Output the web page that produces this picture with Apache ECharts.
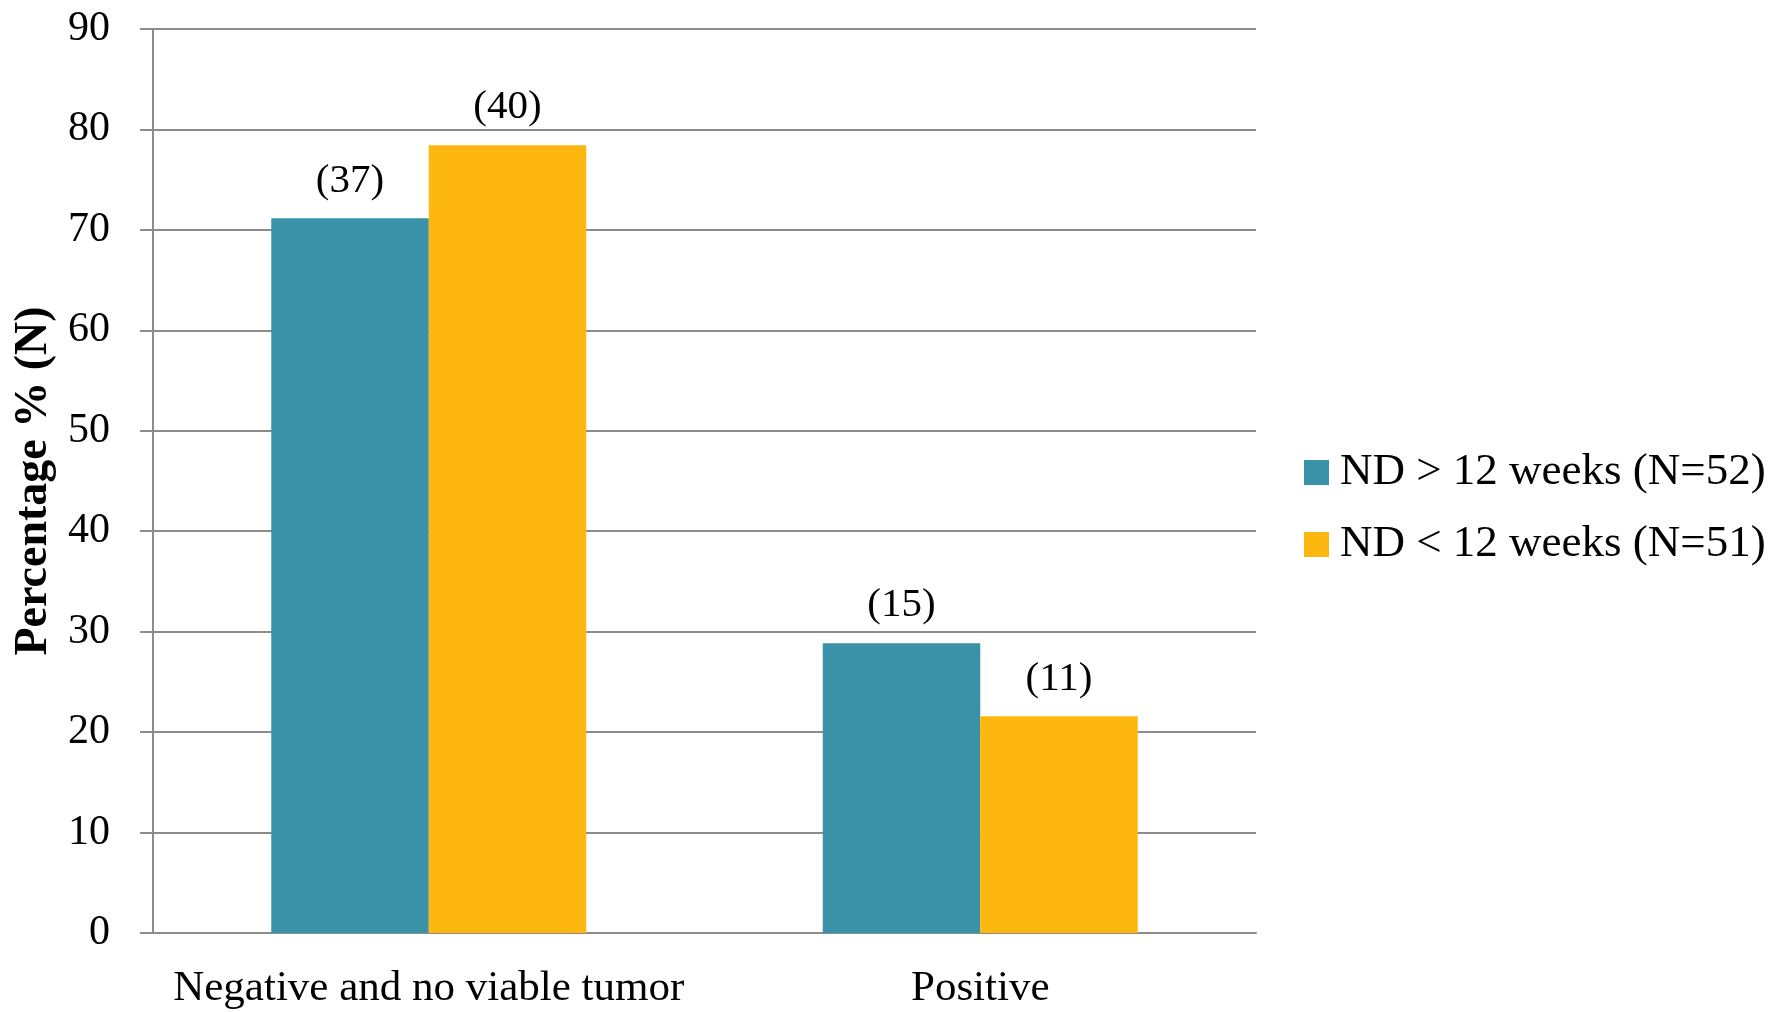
<!DOCTYPE html>
<html>
<head>
<meta charset="utf-8">
<script src="https://cdn.jsdelivr.net/npm/echarts@6/dist/echarts.min.js"></script>
<style>
  html, body { margin: 0; padding: 0; background: #ffffff; }
  #chart { width: 1787px; height: 1012px; }
</style>
</head>
<body>
<div id="chart"></div>
<script>
// Pathological response by neoadjuvant-to-surgery delay group
const categories = ['Negative and no viable tumor', 'Positive'];
const seriesNames = ['ND > 12 weeks (N=52)', 'ND < 12 weeks (N=51)'];
const pctOver12 = [71.15, 28.85];    // percentage of patients, ND > 12 weeks
const pctUnder12 = [78.43, 21.57];   // percentage of patients, ND < 12 weeks
const countOver12 = [37, 15];        // patient counts shown above bars
const countUnder12 = [40, 11];
const yTicks = { min: 0, max: 90, step: 10 };

const FONT = "'Liberation Serif', 'DejaVu Serif', serif";
const GRID_GRAY = '#8c8c8c';

const chart = echarts.init(document.getElementById('chart'), null, { renderer: 'canvas' });

function countLabel(counts) {
  return {
    show: true,
    position: 'top',
    distance: 17,
    fontFamily: FONT,
    fontSize: 41,
    color: '#000',
    formatter: p => '(' + counts[p.dataIndex] + ')'
  };
}

chart.setOption({
  animation: false,
  backgroundColor: '#ffffff',
  grid: { left: 153, right: 531, top: 29, bottom: 79, containLabel: false, outerBoundsMode: 'none' },
  legend: {
    orient: 'vertical',
    left: 1304,
    top: 450,
    padding: 0,
    icon: 'rect',
    itemWidth: 25,
    itemHeight: 25,
    itemGap: 27,
    textStyle: { fontFamily: FONT, fontSize: 45, color: '#000', padding: [0, 0, 0, 6] },
    data: seriesNames
  },
  xAxis: {
    type: 'category',
    data: categories,
    axisLine: { show: true, lineStyle: { color: GRID_GRAY, width: 2 } },
    axisTick: { show: false },
    axisLabel: { interval: 0, fontFamily: FONT, fontSize: 43, color: '#000', margin: 34 }
  },
  yAxis: {
    type: 'value',
    min: yTicks.min,
    max: yTicks.max,
    interval: yTicks.step,
    name: 'Percentage % (N)',
    nameLocation: 'middle',
    nameRotate: 90,
    nameGap: 93,
    nameTextStyle: { fontFamily: FONT, fontSize: 46, fontWeight: 'bold', color: '#000' },
    axisLine: { show: true, lineStyle: { color: GRID_GRAY, width: 2 } },
    axisTick: { show: true, length: 13, lineStyle: { color: GRID_GRAY, width: 2 } },
    axisLabel: { fontFamily: FONT, fontSize: 42, color: '#000', margin: 43 },
    splitLine: { show: true, lineStyle: { color: GRID_GRAY, width: 2 } }
  },
  series: [
    {
      name: seriesNames[0],
      type: 'bar',
      data: pctOver12,
      barWidth: 157.5,
      barGap: '0%',
      itemStyle: { color: '#3a92a8' },
      label: countLabel(countOver12)
    },
    {
      name: seriesNames[1],
      type: 'bar',
      data: pctUnder12,
      barWidth: 157.5,
      barGap: '0%',
      itemStyle: { color: '#feb70f' },
      label: countLabel(countUnder12)
    }
  ]
});
</script>
</body>
</html>
